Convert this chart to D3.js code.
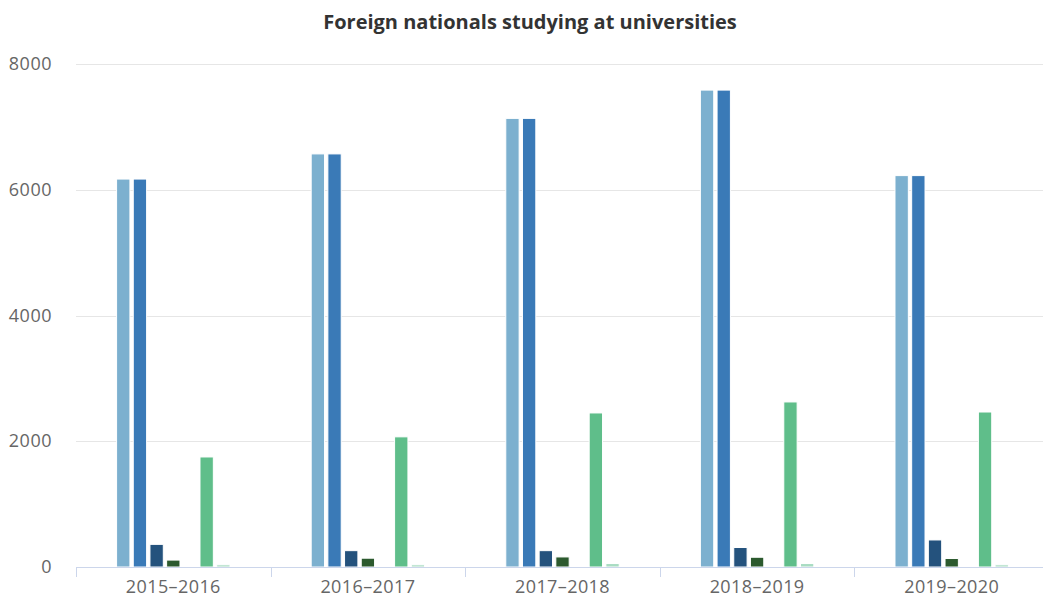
<!DOCTYPE html>
<html>
<head>
<meta charset="utf-8">
<script src="https://cdn.jsdelivr.net/npm/d3@7/dist/d3.min.js"></script>
<style>
  body { margin: 0; background: #fff; }
  svg { display: block; }
</style>
</head>
<body>
<svg id="chart" width="1043" height="599"></svg>
<script>
const categories = ["2015–2016", "2016–2017", "2017–2018", "2018–2019", "2019–2020"];
const seriesNames = ["S1", "S2", "S3", "S4", "S5", "S6", "S7"];
const seriesColors = ["#7cb0cf", "#3a7ab7", "#24527d", "#2c5a2e", "#4a8f5c", "#5fbe8a", "#a8dcc2"];
const s1 = [6170, 6570, 7135, 7585, 6225];
const s2 = [6170, 6570, 7135, 7585, 6225];
const s3 = [360, 260, 260, 310, 430];
const s4 = [110, 140, 160, 155, 135];
const s5 = [0, 0, 0, 0, 0];
const s6 = [1750, 2070, 2450, 2625, 2465];
const s7 = [35, 35, 55, 55, 35];
const yTicks = [0, 2000, 4000, 6000, 8000];
const title = "Foreign nationals studying at universities";

(function () {
const series = [s1, s2, s3, s4, s5, s6, s7];
const svg = d3.select("#chart");
const font = "'Open Sans', 'DejaVu Sans', sans-serif";

const pLeft = 76, pRight = 1049, pTop = 64, pBottom = 567;

const x = d3.scaleBand().domain(categories).range([pLeft, pRight]).paddingInner(0).paddingOuter(0);
const groupPad = 0.2;
const x1 = d3.scaleBand().domain(d3.range(series.length))
  .range([0, x.bandwidth() * (1 - 2 * groupPad)]).paddingInner(0).paddingOuter(0);
const y = d3.scaleLinear().domain([0, 8000]).range([pBottom, pTop]);

// gridlines
svg.append("g").selectAll("line").data(yTicks.filter(d => d > 0)).join("line")
  .attr("x1", pLeft).attr("x2", 1043)
  .attr("y1", d => Math.round(y(d)) + 0.5).attr("y2", d => Math.round(y(d)) + 0.5)
  .attr("stroke", "#e6e6e6").attr("stroke-width", 1);

// y labels
svg.append("g").selectAll("text").data(yTicks).join("text")
  .attr("x", 52).attr("y", d => y(d) + 6)
  .attr("text-anchor", "end")
  .attr("font-family", font).attr("font-size", 18).attr("fill", "#666")
  .attr("letter-spacing", 0.5)
  .text(d => d);

// bars
const slot = x1.bandwidth();
const pp = slot * 0.1;
const g = svg.append("g");
series.forEach((vals, si) => {
  g.selectAll(null).data(vals.map((v, ci) => ({ v, c: categories[ci] }))).join("rect")
    .attr("x", d => x(d.c) + x.bandwidth() * groupPad + x1(si) + pp)
    .attr("width", slot - 2 * pp)
    .attr("y", d => y(d.v))
    .attr("height", d => pBottom - y(d.v))
    .attr("fill", seriesColors[si])
    .attr("stroke", "#fff").attr("stroke-width", d => d.v > 0 ? 1 : 0);
});

// x axis line
svg.append("line").attr("x1", pLeft).attr("x2", 1043)
  .attr("y1", pBottom + 0.5).attr("y2", pBottom + 0.5)
  .attr("stroke", "#ccd6eb").attr("stroke-width", 1);

// ticks at category boundaries
const bounds = categories.map(c => x(c)).concat([x(categories[categories.length - 1]) + x.bandwidth()]);
svg.append("g").selectAll("line").data(bounds).join("line")
  .attr("x1", d => Math.round(d) + 0.5).attr("x2", d => Math.round(d) + 0.5)
  .attr("y1", pBottom).attr("y2", pBottom + 10)
  .attr("stroke", "#ccd6eb").attr("stroke-width", 1);

// x labels
svg.append("g").selectAll("text").data(categories).join("text")
  .attr("x", d => x(d) + x.bandwidth() / 2).attr("y", 593)
  .attr("text-anchor", "middle")
  .attr("font-family", font).attr("font-size", 18).attr("fill", "#666")
  .attr("letter-spacing", 0.4)
  .text(d => d);

// title
svg.append("text").attr("x", 530).attr("y", 29)
  .attr("text-anchor", "middle")
  .attr("font-family", font).attr("font-size", 20).attr("font-weight", "bold")
  .attr("fill", "#333")
  .text(title);
})();
</script>
</body>
</html>
